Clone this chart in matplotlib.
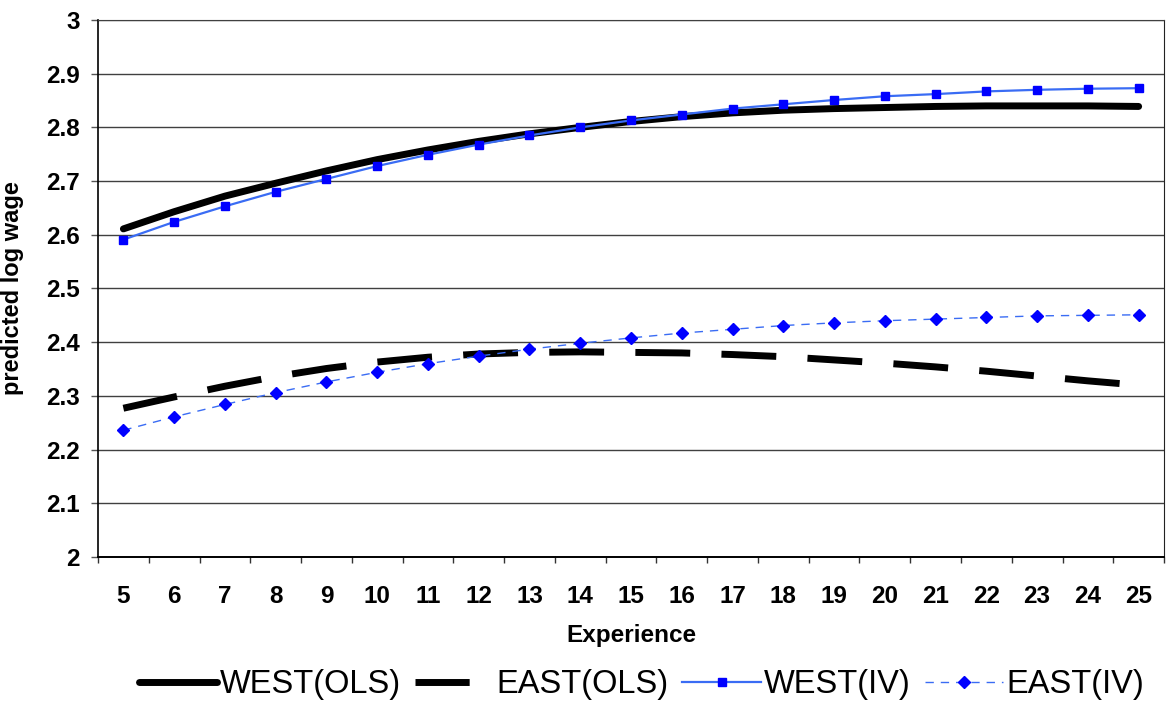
import numpy as np
import matplotlib.pyplot as plt
from matplotlib.lines import Line2D

plt.rcParams['font.family'] = ['Liberation Sans', 'DejaVu Sans']

# experience categories (years)
experience = list(range(5, 26))

# predicted log wage
west_ols = [2.611, 2.643, 2.672, 2.696, 2.719, 2.740, 2.758, 2.774, 2.788, 2.800,
            2.811, 2.820, 2.827, 2.832, 2.835, 2.837, 2.839, 2.840, 2.840, 2.840, 2.839]
east_ols = [2.277, 2.298, 2.318, 2.336, 2.351, 2.363, 2.372, 2.378, 2.381, 2.382,
            2.381, 2.380, 2.377, 2.373, 2.367, 2.361, 2.354, 2.346, 2.337, 2.328, 2.320]
west_iv = [2.591, 2.624, 2.653, 2.680, 2.704, 2.728, 2.749, 2.768, 2.785, 2.800,
           2.813, 2.824, 2.835, 2.843, 2.851, 2.858, 2.862, 2.867, 2.870, 2.872, 2.873]
east_iv = [2.236, 2.261, 2.284, 2.306, 2.326, 2.344, 2.360, 2.374, 2.387, 2.398,
           2.408, 2.417, 2.424, 2.431, 2.436, 2.440, 2.443, 2.446, 2.449, 2.450, 2.451]

ytick_labels = ['2', '2.1', '2.2', '2.3', '2.4', '2.5', '2.6', '2.7', '2.8', '2.9', '3']

blue_line = '#3a6cf4'
blue_mark = '#0000ff'

fig = plt.figure(figsize=(11.68, 7.09), dpi=100)
ax = fig.add_axes([0.0839, 0.2144, 0.9127, 0.7574])

h1, = ax.plot(experience, west_ols, color='black', lw=5, solid_capstyle='round',
              label='WEST(OLS)', zorder=3)
ax.plot(experience, east_ols, color='black', lw=5, ls=(0, (7.9, 4.5)),
        dash_capstyle='butt', zorder=3)
h3, = ax.plot(experience, west_iv, color=blue_line, lw=1.6, marker='s', ms=5.5,
              mfc=blue_mark, mec=blue_mark, label='WEST(IV)', zorder=4)
h4, = ax.plot(experience, east_iv, color=blue_line, lw=1.0, ls=(0, (6, 5)), marker='D',
              ms=6, mfc=blue_mark, mec=blue_mark, label='EAST(IV)', zorder=4)
# legend key for the dashed OLS line: one dash then a gap, like the original
h2 = Line2D([], [], color='black', lw=5, ls=(0, (7.8, 12)), dash_capstyle='butt',
            label='EAST(OLS)')

ax.set_xlim(4.5, 25.5)
ax.set_ylim(2, 3)
ax.set_yticks(np.round(np.arange(2, 3.01, 0.1), 1))
ax.set_yticklabels(ytick_labels)
ax.set_xticks(experience)
ax.set_xticklabels([str(e) for e in experience])
ax.set_xticks(np.arange(4.5, 25.6, 1), minor=True)
ax.tick_params(axis='x', which='major', length=0, pad=20, labelsize=17.5)
ax.tick_params(axis='x', which='minor', length=4.5, width=1, color='#333333')
ax.tick_params(axis='y', length=5, width=1, color='#555555', pad=8, labelsize=17.5)
for lab in ax.get_xticklabels() + ax.get_yticklabels():
    lab.set_fontweight('bold')

ax.grid(axis='y', color='#404040', lw=1)
ax.set_axisbelow(True)
ax.spines['top'].set_color('#404040')
ax.spines['right'].set_color('#222222')
ax.spines['left'].set_linewidth(1.2)
ax.spines['bottom'].set_linewidth(1.4)

ax.set_xlabel('Experience', fontsize=17.5, fontweight='bold', labelpad=12)
ax.set_ylabel('predicted log wage', fontsize=17, fontweight='bold')
ax.yaxis.set_label_coords(-0.069, 0.5)

fig.legend(handles=[h1, h2, h3, h4], loc='center', bbox_to_anchor=(0.549, 0.034),
           ncol=4, frameon=False, fontsize=23.5, handlelength=2.4, handletextpad=0.1,
           columnspacing=0.42, borderaxespad=0)

fig.savefig('out.png', dpi=100)
